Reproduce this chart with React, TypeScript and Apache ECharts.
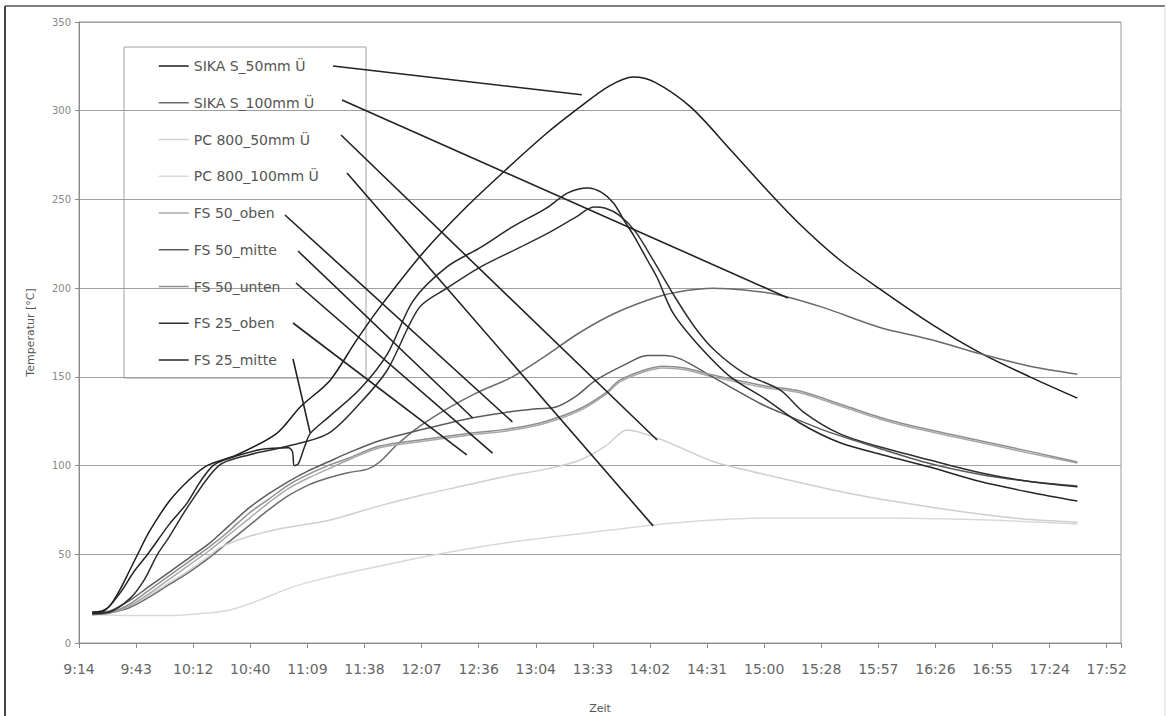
import React, { useEffect, useRef } from "react";
import * as echarts from "echarts";

const FONT = "'DejaVu Sans', sans-serif";

// X axis: minutes since 9:14.4 (Excel axis min 0.385 d, max 0.75 d, step 0.02 d)
const axisStartMin = 554.4;
const axisEndMin = 1080;
const axisStepMin = 28.8;

const seriesNames = [
  "SIKA S_50mm Ü",
  "SIKA S_100mm Ü",
  "PC 800_50mm Ü",
  "PC 800_100mm Ü",
  "FS 50_oben",
  "FS 50_mitte",
  "FS 50_unten",
  "FS 25_oben",
  "FS 25_mitte",
];

const sikaS50Times = ["9:21","9:26","9:30","9:35","9:40","9:44","9:50","10:00","10:10","10:19","10:34","10:54","11:06","11:21","11:34","11:46","12:08","12:30","12:50","13:10","13:27","13:42","13:54","14:05","14:23","14:43","15:00","15:18","15:38","15:59","16:24","16:49","17:14","17:38"];
const sikaS50Values = [17.5,18,21,30,41,50,63,80,92,100,106,118,133,148,170,189,220,246,267,287,302,314,319,316,302,278,257,236,216,199,180,163.5,150,138];

const sikaS100Times = ["9:21","9:30","9:40","9:50","10:00","10:10","10:20","10:30","10:40","10:50","11:00","11:10","11:20","11:30","11:40","11:46","11:55","12:06","12:20","12:35","12:53","13:10","13:27","13:45","14:06","14:20","14:34","14:50","15:08","15:30","15:58","16:24","16:49","17:14","17:38"];
const sikaS100Values = [16,17,20,26,33,40,48,57,66,75,83,89,93,96,98,102,112,122,132,141,150,162,175,186,195,198.5,200,199,196,189,178,171,163,156,151.5];

const pc50Times = ["9:21","9:30","9:40","9:50","10:00","10:10","10:20","10:26","10:40","10:54","11:20","11:45","12:06","12:30","12:50","13:10","13:27","13:40","13:51","14:05","14:18","14:35","15:08","15:40","16:10","16:40","17:10","17:38"];
const pc50Values = [16,17,21,27,34,41,49,54,60,64,69,77,83,89,94,98,103,111,120,116,110,102,93,85,79,74,70,68];

const pc100Times = ["9:21","9:40","10:00","10:15","10:30","10:45","11:02","11:20","11:36","12:06","12:30","13:00","13:30","14:00","14:30","15:00","15:30","16:00","16:30","17:00","17:38"];
const pc100Values = [16,15.5,15.5,16.5,18.5,24,31.5,37,41,48,53,58,62,66,69,70.5,70.5,70.5,70,69,67];

const fs50ObenTimes = ["9:21","9:30","9:40","9:50","10:00","10:10","10:20","10:30","10:40","10:50","11:00","11:10","11:20","11:30","11:46","12:10","12:30","12:53","13:10","13:27","13:40","13:47","14:00","14:09","14:20","14:34","15:00","15:18","15:40","15:59","16:20","16:49","17:14","17:38"];
const fs50ObenValues = [16,17,21,28,36,44,52,61,70,79,87,93,98,103,110,114,117,120,124,131,140,147,153,155,154,150,144,141,133,126,120,113,107,101.5];

const fs50MitteTimes = ["9:21","9:30","9:40","9:50","10:00","10:10","10:20","10:30","10:40","10:50","11:00","11:10","11:20","11:30","11:46","12:10","12:33","12:50","13:05","13:15","13:25","13:35","13:50","14:01","14:10","14:18","14:34","14:58","15:08","15:30","16:00","16:24","16:49","17:14","17:38"];
const fs50MitteValues = [16.5,18,24,32,40,48,56,66,76,84,91,97,102,107,114,121,127,130,132,133,139,148,157,162,162,160,150,135,130,120,109,101,95,91,88.5];

const fs50UntenTimes = ["9:21","9:30","9:40","9:50","10:00","10:10","10:20","10:30","10:40","10:50","11:00","11:10","11:20","11:30","11:46","12:10","12:30","12:53","13:10","13:27","13:40","13:47","14:00","14:09","14:20","14:34","15:00","15:18","15:40","15:59","16:20","16:49","17:14","17:38"];
const fs50UntenValues = [16,17,22,30,38,46,54,63,73,81,89,95,100,104,111,115,118,121,125,132,141,148,154,156,155,151,145,142,134,127,121,114,108,102];

const fs25ObenTimes = ["9:21","9:30","9:40","9:47","9:54","10:00","10:10","10:25","10:40","11:00","11:20","11:36","11:50","12:06","12:20","12:37","12:55","13:11","13:25","13:34","13:40","13:47","13:55","14:05","14:15","14:25","14:35","14:50","15:08","15:20","15:38","16:00","16:24","16:49","17:14","17:38"];
const fs25ObenValues = [16.5,17.5,25,35,50,60,78,100,106,111,118,135,154,189,200,212,222,231,240,245.8,245,241,232,214,195,178,165,152,142.6,130,118,110,103,96,91,88];

const fs25MitteTimes = ["9:21","9:27","9:35","9:42","9:49","10:00","10:09","10:15","10:22","10:30","10:46","11:00","11:02","11:03","11:05","11:08","11:11","11:20","11:36","11:50","12:03","12:20","12:37","12:53","13:10","13:21","13:31","13:38","13:44","13:50","13:54","14:01","14:06","14:14","14:26","14:43","15:00","15:18","15:38","16:00","16:24","16:49","17:14","17:38"];
const fs25MitteValues = [17,18,28,40,50,67,79,90,100,104,109,110,108,100,101,110,118,127,143,163,193,212,223,234.5,245,253.7,256.5,254,248,237,230,216,206,186,169,150,138,124,113,106,99,91,85,80];

const seriesTimes = [sikaS50Times, sikaS100Times, pc50Times, pc100Times, fs50ObenTimes, fs50MitteTimes, fs50UntenTimes, fs25ObenTimes, fs25MitteTimes];
const seriesValues = [sikaS50Values, sikaS100Values, pc50Values, pc100Values, fs50ObenValues, fs50MitteValues, fs50UntenValues, fs25ObenValues, fs25MitteValues];
const seriesColors = ["#1c1c1c", "#6a6a6a", "#cfcfcf", "#d9d9d9", "#a9a9a9", "#5a5a5a", "#8f8f8f", "#2e2e2e", "#262626"];

// annotation leader lines: end points in data space (time, °C)
const leaderEndTimes = ["13:28", "15:12", "14:06", "14:04", "12:53", "12:33", "12:43", "12:30", "11:11"];
const leaderEndValues = [309, 194.5, 114.4, 66, 124.6, 126.8, 107, 106, 118.4];
// start points next to the legend labels (layout, pixels)
const leaderStarts = [[333, 66], [342, 100], [341, 135], [347, 173], [285, 215], [298, 251], [296, 283], [293, 323], [293, 359]];

const toAxis = (t: string) => {
  const [h, m] = t.split(":").map(Number);
  return h * 60 + m - axisStartMin;
};

const fmtTime = (v: number) => {
  const steps = v / axisStepMin;
  if (Math.abs(steps - Math.round(steps)) > 1e-6) return "";
  const total = Math.floor(axisStartMin + v + 1e-6);
  const h = Math.floor(total / 60);
  const m = total % 60;
  return `${h}:${m < 10 ? "0" + m : m}`;
};

export default function App() {
  const ref = useRef<HTMLDivElement>(null);
  useEffect(() => {
    const chart = echarts.init(ref.current!, undefined, { renderer: "svg" });
    const option: any = {
      animation: false,
      backgroundColor: "#ffffff",
      textStyle: { fontFamily: FONT },
      grid: {
        left: 79, right: 46, top: 22, bottom: 73,
        show: true, borderColor: "#9a9a9a", borderWidth: 1,
        containLabel: false, outerBoundsMode: "none",
      },
      legend: {
        orient: "vertical", left: 158, top: 59, padding: 0,
        itemGap: 22.75, itemWidth: 30, itemHeight: 14,
        selectedMode: false,
        itemStyle: { opacity: 0 },
        lineStyle: { width: 1.5 },
        textStyle: { fontSize: 14, color: "#555", fontFamily: FONT, lineHeight: 14 },
        data: seriesNames,
      },
      xAxis: {
        type: "value", min: 0, max: axisEndMin - axisStartMin, interval: axisStepMin,
        name: "Zeit", nameLocation: "middle", nameGap: 60,
        nameTextStyle: { fontSize: 11, color: "#555", fontFamily: FONT },
        axisLine: { show: true, lineStyle: { color: "#8a8a8a", width: 1 } },
        axisTick: { show: true, inside: false, length: 5, lineStyle: { color: "#8a8a8a" } },
        axisLabel: { margin: 19, fontSize: 14, color: "#666", fontFamily: FONT, formatter: fmtTime, showMaxLabel: true },
        splitLine: { show: false },
      },
      yAxis: {
        type: "value", min: 0, max: 350, interval: 50,
        name: "Temperatur [°C]", nameLocation: "middle", nameGap: 43, nameRotate: 90,
        nameTextStyle: { fontSize: 11, color: "#555", fontFamily: FONT },
        axisLine: { show: true, lineStyle: { color: "#8a8a8a", width: 1 } },
        axisTick: { show: true, inside: false, length: 4, lineStyle: { color: "#8a8a8a" } },
        axisLabel: { margin: 8, fontSize: 10, color: "#888", fontFamily: FONT },
        splitLine: { show: true, lineStyle: { color: "#9f9f9f", width: 1 } },
      },
      series: seriesNames.map((name, i) => ({
        name,
        type: "line",
        symbol: "none",
        showSymbol: false,
        smooth: 0.3,
        data: seriesTimes[i].map((t, j) => [toAxis(t), seriesValues[i][j]]),
        lineStyle: { color: seriesColors[i], width: 1.5 },
        itemStyle: { color: seriesColors[i] },
      })),
    };
    chart.setOption(option);

    const leaderLines = leaderEndTimes.map((t, i) => {
      const end = chart.convertToPixel({ gridIndex: 0 }, [toAxis(t), leaderEndValues[i]]) as number[];
      return {
        type: "line",
        silent: true,
        z: 100,
        shape: { x1: leaderStarts[i][0], y1: leaderStarts[i][1], x2: end[0], y2: end[1] },
        style: { stroke: "#222", lineWidth: 1.6 },
      };
    });

    chart.setOption({
      graphic: [
        { type: "line", silent: true, shape: { x1: 5, y1: 6, x2: 5, y2: 716 }, style: { stroke: "#444", lineWidth: 2 } },
        { type: "line", silent: true, shape: { x1: 5, y1: 6, x2: 1165, y2: 6 }, style: { stroke: "#555", lineWidth: 1.5 } },
        { type: "line", silent: true, shape: { x1: 1165, y1: 6, x2: 1165, y2: 716 }, style: { stroke: "#ddd", lineWidth: 1 } },
        { type: "rect", silent: true, shape: { x: 124, y: 47, width: 242, height: 331 }, style: { fill: "none", stroke: "#a0a0a0", lineWidth: 1 } },
        ...leaderLines,
      ],
    });

    return () => chart.dispose();
  }, []);
  return (
    <div
      ref={ref}
      style={{ position: "fixed", left: 0, top: 0, width: 1167, height: 716, background: "#fff" }}
    />
  );
}
